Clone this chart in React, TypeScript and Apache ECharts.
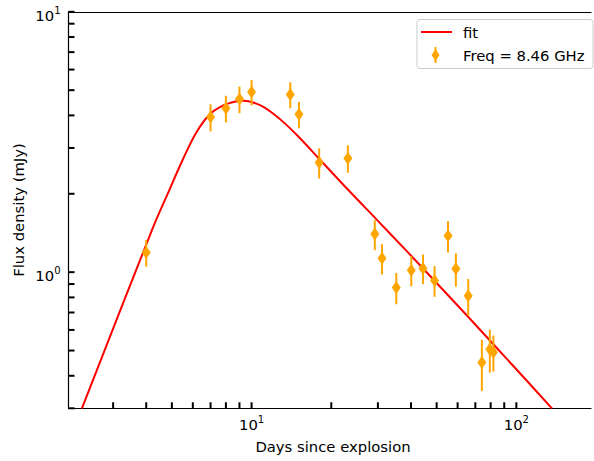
import React, { useEffect, useRef } from 'react';
import * as echarts from 'echarts';

// Observed data (days since explosion, flux density in mJy, 1-sigma error)
const days = [4.0, 7.0, 8.0, 9.0, 10.0, 14.0, 15.1, 18.0, 23.1, 29.2, 31.1, 35.2, 40.1, 44.4, 49.1, 55.2, 59.1, 65.8, 74.1, 79.4, 81.9];
const flux = [1.19, 3.94, 4.26, 4.62, 4.92, 4.81, 4.04, 2.64, 2.74, 1.40, 1.13, 0.873, 1.018, 1.034, 0.929, 1.38, 1.03, 0.811, 0.45, 0.506, 0.493];
const fluxErr = [0.14, 0.47, 0.50, 0.54, 0.55, 0.55, 0.47, 0.35, 0.33, 0.185, 0.15, 0.12, 0.135, 0.135, 0.125, 0.19, 0.15, 0.13, 0.10, 0.095, 0.078];

// Fit curve
const fitDays = [2.285, 4.23, 4.89, 5.49, 6.16, 6.91, 7.76, 8.71, 9.36, 10.35, 11.12, 12.12, 13.45, 15.05, 17.89, 23.2, 30.06, 38.96, 50.5, 65.46, 84.86, 110.0, 136.5];
const fitFlux = [0.299, 1.473, 2.067, 2.696, 3.417, 4.017, 4.35, 4.52, 4.55, 4.45, 4.303, 4.049, 3.703, 3.311, 2.745, 2.067, 1.571, 1.191, 0.899, 0.677, 0.508, 0.381, 0.299];

// Tick positions
const xTickValues = [3, 4, 5, 6, 7, 8, 9, 10, 20, 30, 40, 50, 60, 70, 80, 90, 100];
const yTickValues = [0.3, 0.4, 0.5, 0.6, 0.7, 0.8, 0.9, 1, 2, 3, 4, 5, 6, 7, 8, 9, 10];

const X_MIN = 2.035;
const X_MAX = 191.4;
const Y_MIN = 0.3;
const Y_MAX = 10;

const FONT = 'DejaVu Sans';
const FS = 14.8;
const ORANGE = '#ffa500';

const powLabel = (v: number) => {
  const e = Math.log10(v);
  const r = Math.round(e);
  if (Math.abs(e - r) < 1e-6) return `{b|10}{s|${r}}`;
  return '';
};

const richStyle = {
  b: { fontFamily: FONT, fontSize: FS, lineHeight: 20, color: '#000' },
  s: { fontFamily: FONT, fontSize: 10, verticalAlign: 'top', color: '#000' },
};

const spine = { show: true, lineStyle: { color: '#000', width: 1.2 } };

export default function App() {
  const ref = useRef<HTMLDivElement>(null);
  useEffect(() => {
    if (!ref.current) return;
    const chart = echarts.init(ref.current, null, { renderer: 'svg' });
    const option: any = {
      animation: false,
      grid: {
        left: 68.5,
        right: 0,
        top: 11.8,
        bottom: 52.7,
      },
      xAxis: [
        {
          type: 'log',
          logBase: 10,
          min: X_MIN,
          max: X_MAX,
          position: 'bottom',
          axisLine: spine,
          axisTick: { show: false },
          splitLine: { show: false },
          minorTick: { show: false },
          axisLabel: {
            formatter: powLabel,
            margin: 6,
            rich: richStyle,
          },
        },
        {
          type: 'log',
          logBase: 10,
          min: X_MIN,
          max: X_MAX,
          position: 'top',
          axisLine: spine,
          axisTick: { show: false },
          splitLine: { show: false },
          axisLabel: { show: false },
        },
      ],
      yAxis: {
        type: 'log',
        logBase: 10,
        min: Y_MIN,
        max: Y_MAX,
        axisLine: spine,
        axisTick: { show: false },
        splitLine: { show: false },
        minorTick: { show: false },
        axisLabel: {
          formatter: powLabel,
          margin: 8,
          rich: richStyle,
          padding: [7, 0, 0, 0],
        },
      },
      series: [
        {
          type: 'line',
          name: 'fit',
          data: fitDays.map((d, i) => [d, fitFlux[i]]),
          showSymbol: false,
          smooth: 0.35,
          lineStyle: { color: '#ff0000', width: 2 },
          itemStyle: { color: '#ff0000' },
          z: 2,
        },
        {
          type: 'custom',
          name: 'errorbars',
          data: days.map((d, i) => [d, flux[i] - fluxErr[i], flux[i] + fluxErr[i]]),
          encode: { x: 0, y: [1, 2] },
          renderItem: (params: any, api: any) => {
            const lo = api.coord([api.value(0), api.value(1)]);
            const hi = api.coord([api.value(0), api.value(2)]);
            return {
              type: 'line',
              shape: { x1: lo[0], y1: lo[1], x2: hi[0], y2: hi[1] },
              style: { stroke: ORANGE, lineWidth: 2 },
            };
          },
          z: 3,
        },
        {
          type: 'scatter',
          name: 'Freq = 8.46 GHz',
          data: days.map((d, i) => [d, flux[i]]),
          symbol: 'diamond',
          symbolSize: [9, 13],
          itemStyle: { color: ORANGE, opacity: 1 },
          z: 4,
        },
        {
          type: 'custom',
          name: 'xticks',
          data: xTickValues.map((v) => [v, Y_MIN]),
          encode: { x: 0, y: 1 },
          renderItem: (params: any, api: any) => {
            const p = api.coord([api.value(0), api.value(1)]);
            return {
              type: 'line',
              shape: { x1: p[0], y1: p[1], x2: p[0], y2: p[1] - 6 },
              style: { stroke: '#000', lineWidth: 2 },
            };
          },
          z: 5,
        },
        {
          type: 'custom',
          name: 'yticks',
          data: yTickValues.map((v) => [X_MIN, v]),
          encode: { x: 0, y: 1 },
          renderItem: (params: any, api: any) => {
            const p = api.coord([api.value(0), api.value(1)]);
            return {
              type: 'line',
              shape: { x1: p[0], y1: p[1], x2: p[0] + 6, y2: p[1] },
              style: { stroke: '#000', lineWidth: 2 },
            };
          },
          z: 5,
        },
      ],
      graphic: [
        {
          type: 'text',
          x: 333,
          y: 446,
          style: {
            text: 'Days since explosion',
            font: `${FS}px "${FONT}"`,
            fill: '#000',
            align: 'center',
            verticalAlign: 'middle',
          },
        },
        {
          type: 'text',
          x: 18,
          y: 210,
          rotation: Math.PI / 2,
          style: {
            text: 'Flux density (mJy)',
            font: `${FS}px "${FONT}"`,
            fill: '#000',
            align: 'center',
            verticalAlign: 'middle',
          },
        },
        {
          type: 'group',
          z: 100,
          children: [
            {
              type: 'rect',
              shape: { x: 417, y: 19.5, width: 176, height: 49, r: 3 },
              style: { fill: 'rgba(255,255,255,0.8)', stroke: '#cccccc', lineWidth: 1 },
            },
            {
              type: 'line',
              shape: { x1: 421, y1: 32, x2: 452, y2: 32 },
              style: { stroke: '#ff0000', lineWidth: 2 },
            },
            {
              type: 'line',
              shape: { x1: 435.5, y1: 47, x2: 435.5, y2: 63 },
              style: { stroke: ORANGE, lineWidth: 2 },
            },
            {
              type: 'polygon',
              shape: { points: [[435.5, 49], [439.5, 55], [435.5, 61], [431.5, 55]] },
              style: { fill: ORANGE },
            },
            {
              type: 'text',
              x: 463,
              y: 32,
              style: {
                text: 'fit',
                font: `${FS}px "${FONT}"`,
                fill: '#000',
                align: 'left',
                verticalAlign: 'middle',
              },
            },
            {
              type: 'text',
              x: 463,
              y: 55,
              style: {
                text: 'Freq = 8.46 GHz',
                font: `${FS}px "${FONT}"`,
                fill: '#000',
                align: 'left',
                verticalAlign: 'middle',
              },
            },
          ],
        },
      ],
    };
    chart.setOption(option);
    return () => chart.dispose();
  }, []);
  return (
    <div
      ref={ref}
      style={{ position: 'fixed', left: 0, top: 0, width: 594, height: 461, background: '#fff' }}
    />
  );
}
